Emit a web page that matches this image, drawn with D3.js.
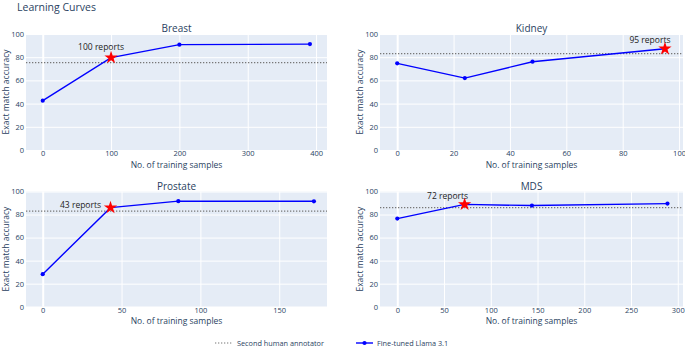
<!DOCTYPE html>
<html>
<head>
<meta charset="utf-8">
<script src="https://cdn.jsdelivr.net/npm/d3@7"></script>
<style>
  body { margin: 0; background: #fff; }
  svg { display: block; font-family: "Open Sans", sans-serif; }
</style>
</head>
<body>
<div id="chart"></div>
<script>
// values
const panelNames = ['Breast', 'Kidney', 'Prostate', 'MDS'];
const breastSamples = [0, 100, 200, 391];
const breastAccuracy = [42.5, 79.6, 90.8, 91.3];
const kidneySamples = [0, 24, 48, 95];
const kidneyAccuracy = [74.7, 62, 76.1, 87.3];
const prostateSamples = [0, 43, 86, 172];
const prostateAccuracy = [28.2, 86, 91.6, 91.5];
const mdsSamples = [0, 72, 144, 289];
const mdsAccuracy = [76.5, 88.8, 87.8, 89.5];
const humanAnnotator = [75.3, 83, 83, 86];
const starIndex = [1, 3, 1, 1];
const starLabels = ['100 reports', '95 reports', '43 reports', '72 reports'];
const xTicks = [
  [0, 100, 200, 300, 400],
  [0, 20, 40, 60, 80, 100],
  [0, 50, 100, 150],
  [0, 50, 100, 150, 200, 250, 300]
];
const xRanges = [[-24.5, 416], [-6.1, 101.4], [-10.6, 180.3], [-18.5, 305.6]];
const yTicks = [0, 20, 40, 60, 80, 100];

const samples = [breastSamples, kidneySamples, prostateSamples, mdsSamples];
const accuracy = [breastAccuracy, kidneyAccuracy, prostateAccuracy, mdsAccuracy];

const width = 685;
const height = 347;
const textColor = '#2a3f5f';
const cols = [[26, 327], [380, 683]];
const rows = [[34, 150], [191.5, 306.7]];
const labelOffset = [[-10, -11], [-15, -9], [-30, -3], [-17, -8]];

const svg = d3.select('#chart').append('svg')
  .attr('width', width)
  .attr('height', height);

svg.append('text')
  .attr('x', 17)
  .attr('y', 11)
  .attr('fill', textColor)
  .style('font-size', '10.5px')
  .text('Learning Curves');

panelNames.forEach((name, i) => {
  const [x0, x1] = cols[i % 2];
  const [y0, y1] = rows[Math.floor(i / 2)];
  const x = d3.scaleLinear().domain(xRanges[i]).range([x0, x1]);
  const y = d3.scaleLinear().domain([0, 100]).range([y1, y0]);
  const g = svg.append('g');

  g.append('rect')
    .attr('x', x0).attr('y', y0)
    .attr('width', x1 - x0).attr('height', y1 - y0)
    .attr('fill', '#e5ecf6');

  // grid
  g.append('g')
    .attr('transform', `translate(0,${y1})`)
    .call(d3.axisBottom(x).tickValues(xTicks[i]).tickSize(-(y1 - y0)).tickFormat(''))
    .call(a => a.select('.domain').remove())
    .selectAll('line')
    .attr('stroke', '#fff')
    .attr('stroke-width', d => (d === 0 ? 2 : 1));
  g.append('g')
    .attr('transform', `translate(${x0},0)`)
    .call(d3.axisLeft(y).tickValues(yTicks).tickSize(-(x1 - x0)).tickFormat(''))
    .call(a => a.select('.domain').remove())
    .selectAll('line')
    .attr('stroke', '#fff');

  // tick labels
  const xa = g.append('g')
    .attr('transform', `translate(0,${y1})`)
    .call(d3.axisBottom(x).tickValues(xTicks[i]).tickSize(0).tickPadding(1).tickFormat(d3.format('d')));
  xa.select('.domain').remove();
  xa.selectAll('text').attr('fill', textColor).style('font-size', '7.5px').style('font-family', 'Open Sans');

  const ya = g.append('g')
    .attr('transform', `translate(${x0},0)`)
    .call(d3.axisLeft(y).tickValues(yTicks).tickSize(0).tickPadding(2));
  ya.select('.domain').remove();
  ya.selectAll('text').attr('fill', textColor).style('font-size', '7.5px').style('font-family', 'Open Sans');

  // titles
  g.append('text')
    .attr('x', (x0 + x1) / 2)
    .attr('y', y0 - 2)
    .attr('text-anchor', 'middle')
    .attr('fill', textColor)
    .style('font-size', '10px')
    .text(name);
  g.append('text')
    .attr('x', (x0 + x1) / 2)
    .attr('y', y1 + 17.5)
    .attr('text-anchor', 'middle')
    .attr('fill', textColor)
    .style('font-size', '8.5px')
    .text('No. of training samples');
  g.append('text')
    .attr('transform', `translate(${x0 - 20},${(y0 + y1) / 2}) rotate(-90)`)
    .attr('dy', '0.35em')
    .attr('text-anchor', 'middle')
    .attr('fill', textColor)
    .style('font-size', '8.5px')
    .text('Exact match accuracy');

  // human annotator
  g.append('line')
    .attr('x1', x0).attr('x2', x1)
    .attr('y1', y(humanAnnotator[i])).attr('y2', y(humanAnnotator[i]))
    .attr('stroke', '#777')
    .attr('stroke-width', 1.2)
    .attr('stroke-dasharray', '1.3 1.7');

  const pts = samples[i].map((s, k) => ({ s, a: accuracy[i][k] }));
  g.append('path')
    .datum(pts)
    .attr('fill', 'none')
    .attr('stroke', '#0000ff')
    .attr('stroke-width', 1.4)
    .attr('d', d3.line().x(d => x(d.s)).y(d => y(d.a)));
  g.selectAll('circle.pt')
    .data(pts)
    .join('circle')
    .attr('class', 'pt')
    .attr('cx', d => x(d.s))
    .attr('cy', d => y(d.a))
    .attr('r', 2.1)
    .attr('fill', '#0000ff');

  const best = pts[starIndex[i]];
  g.append('path')
    .attr('d', d3.symbol().type(d3.symbolStar).size(55)())
    .attr('transform', `translate(${x(best.s)},${y(best.a)})`)
    .attr('fill', '#ff0000');
  g.append('text')
    .attr('x', x(best.s) + labelOffset[i][0])
    .attr('y', y(best.a) + labelOffset[i][1])
    .attr('dy', '0.35em')
    .attr('text-anchor', 'middle')
    .attr('fill', '#222')
    .style('font-size', '8.5px')
    .text(starLabels[i]);
});

// legend
const legendY = 343;
const leg = svg.append('g');
leg.append('line')
  .attr('x1', 215).attr('x2', 233)
  .attr('y1', legendY).attr('y2', legendY)
  .attr('stroke', '#777')
  .attr('stroke-width', 1.2)
  .attr('stroke-dasharray', '1.3 1.7');
leg.append('text')
  .attr('x', 237).attr('y', legendY).attr('dy', '0.35em')
  .attr('fill', textColor)
  .style('font-size', '7.3px')
  .text('Second human annotator');
leg.append('line')
  .attr('x1', 356).attr('x2', 373)
  .attr('y1', legendY).attr('y2', legendY)
  .attr('stroke', '#0000ff')
  .attr('stroke-width', 1.4);
leg.append('circle')
  .attr('cx', 364.5).attr('cy', legendY).attr('r', 2.1)
  .attr('fill', '#0000ff');
leg.append('text')
  .attr('x', 377).attr('y', legendY).attr('dy', '0.35em')
  .attr('fill', textColor)
  .style('font-size', '7.3px')
  .text('Fine-tuned Llama 3.1');
</script>
</body>
</html>
